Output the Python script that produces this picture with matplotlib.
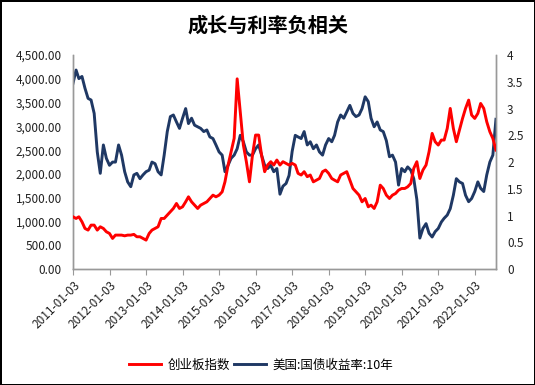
import matplotlib
matplotlib.use("Agg")
import matplotlib.pyplot as plt
import matplotlib.ticker as mticker
import pandas as pd

plt.rcParams['font.family'] = ['Noto Sans CJK SC', 'DejaVu Sans']

title = "成长与利率负相关"
series_red_name = "创业板指数"
series_blue_name = "美国:国债收益率:10年"
start_month = "2011-01-01"

chinext = [1100, 1065, 1100, 995, 855, 820, 925, 925, 820, 890,
           855, 785, 750, 645, 715, 715, 715, 700, 715, 715,
           730, 680, 680, 645, 610, 750, 820, 855, 890, 1065,
           1065, 1135, 1205, 1275, 1380, 1275, 1310, 1415, 1520, 1415,
           1345, 1275, 1345, 1380, 1415, 1485, 1555, 1520, 1555, 1625,
           1835, 2185, 2465, 2750, 4000, 3300, 2608, 2258, 1835, 2398,
           2818, 2818, 2398, 2048, 2188, 2258, 2188, 2293, 2188, 2258,
           2223, 2188, 2223, 2188, 2013, 1978, 2048, 1943, 1978, 1835,
           1870, 1905, 2048, 2083, 2013, 1905, 1870, 1835, 1978, 2013,
           2048, 1870, 1695, 1625, 1555, 1415, 1485, 1310, 1345, 1275,
           1415, 1765, 1695, 1555, 1485, 1555, 1590, 1660, 1695, 1695,
           1730, 1800, 2118, 2258, 1905, 2083, 2188, 2468, 2853, 2678,
           2608, 2713, 2713, 2958, 3378, 2958, 2678, 2923, 3168, 3378,
           3553, 3238, 3168, 3273, 3483, 3378, 3098, 2888, 2748, 2503]

us10y = [3.47, 3.72, 3.56, 3.60, 3.38, 3.19, 3.16, 2.91, 2.19, 1.79,
         2.32, 2.07, 1.94, 2.00, 2.00, 2.32, 2.13, 1.82, 1.63, 1.54,
         1.76, 1.79, 1.69, 1.76, 1.82, 1.85, 2.00, 1.97, 1.82, 1.76,
         2.13, 2.57, 2.85, 2.88, 2.75, 2.63, 2.82, 3.00, 2.72, 2.82,
         2.69, 2.66, 2.63, 2.57, 2.60, 2.47, 2.44, 2.32, 2.19, 2.13,
         1.82, 1.94, 2.07, 2.13, 2.25, 2.50, 2.38, 2.19, 2.13, 2.13,
         2.25, 2.32, 2.13, 1.94, 1.88, 1.94, 1.82, 1.88, 1.40, 1.55,
         1.60, 1.75, 2.20, 2.50, 2.47, 2.44, 2.57, 2.32, 2.38, 2.25,
         2.32, 2.19, 2.13, 2.32, 2.44, 2.38, 2.50, 2.75, 2.88, 2.82,
         2.94, 3.06, 2.91, 2.85, 2.88, 3.00, 3.22, 3.13, 2.82, 2.66,
         2.75, 2.60, 2.57, 2.40, 2.10, 2.13, 2.00, 1.57, 1.88, 1.82,
         1.91, 1.85, 1.69, 1.30, 0.58, 0.76, 0.85, 0.67, 0.60, 0.70,
         0.76, 0.88, 0.95, 1.01, 1.13, 1.38, 1.69, 1.63, 1.60, 1.38,
         1.26, 1.32, 1.45, 1.63, 1.51, 1.45, 1.76, 2.00, 2.13, 2.80]

year_ticks = [f"{y}-01-03" for y in range(2011, 2023)]

dates = pd.date_range(start_month, periods=len(chinext), freq="MS")

fig = plt.figure(figsize=(5.35, 3.85), dpi=100)
fig.patch.set_edgecolor("black")
fig.patch.set_linewidth(2)
ax = fig.add_axes([0.1364, 0.301, 0.7906, 0.556])
ax2 = ax.twinx()

red = "#FF0000"
navy = "#1F3864"
l1, = ax.plot(dates, chinext, color=red, lw=2.1, label=series_red_name, zorder=3)
l2, = ax2.plot(dates, us10y, color=navy, lw=2.1, label=series_blue_name)
ax.set_zorder(ax2.get_zorder() + 1)
ax.patch.set_visible(False)

ax.set_ylim(0, 4500)
ax.set_yticks(range(0, 4501, 500))
ax.yaxis.set_major_formatter(mticker.FuncFormatter(lambda v, p: f"{v:,.2f}"))
ax2.set_ylim(0, 4)
ax2.set_yticks([0, 0.5, 1, 1.5, 2, 2.5, 3, 3.5, 4])
ax2.yaxis.set_major_formatter(mticker.FuncFormatter(lambda v, p: f"{v:g}"))

ax.set_xlim(dates[0], dates[-1])
tick_dates = pd.to_datetime(year_ticks)
ax.set_xticks(tick_dates)
ax.set_xticklabels(year_ticks, rotation=45, ha="right", rotation_mode="anchor")

for a in (ax, ax2):
    a.spines["top"].set_visible(False)
    for s in ("left", "right", "bottom"):
        a.spines[s].set_color("#999999")
        a.spines[s].set_linewidth(1)
ax.tick_params(axis="y", length=0, labelsize=8.5, colors="#222222", pad=8)
ax2.tick_params(axis="y", length=0, labelsize=8.5, colors="#222222", pad=8)
ax.tick_params(axis="x", length=4, color="#999999", labelsize=8.5, labelcolor="#222222", pad=3)

fig.text(0.5, 0.935, title, ha="center", va="center", fontsize=14.5, fontweight="bold")

fig.legend(handles=[l1, l2], loc="center", bbox_to_anchor=(0.488, 0.052), ncol=2,
           frameon=False, fontsize=9, handlelength=2.6, columnspacing=0.3, handletextpad=0.5)

fig.savefig("out.png", dpi=100, edgecolor=fig.get_edgecolor())
